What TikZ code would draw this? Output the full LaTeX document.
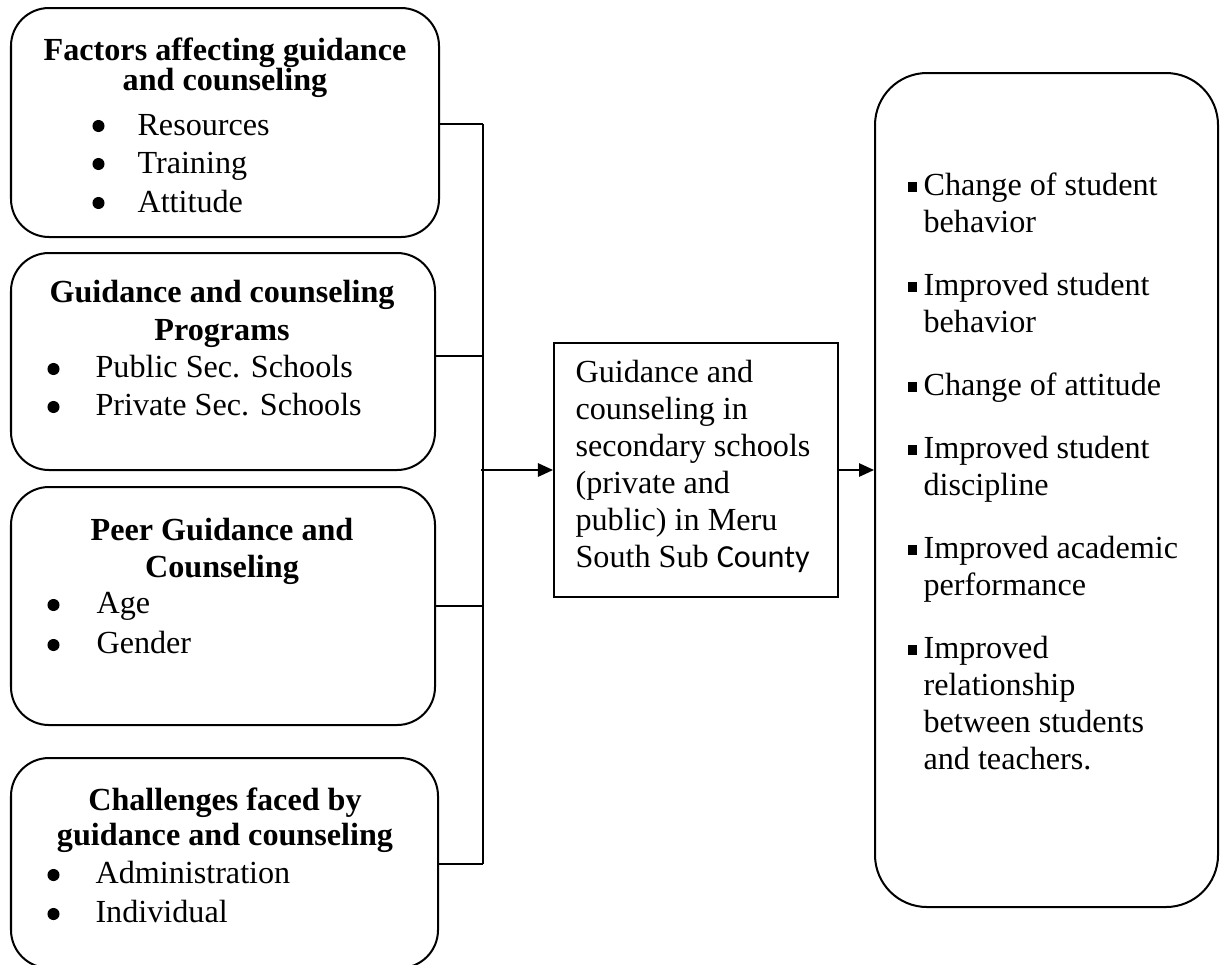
\documentclass[tikz,border=0pt]{standalone}
\usepackage{fontspec}
\setmainfont{Liberation Serif}
\newfontfamily\calibrifont{Carlito}
\usetikzlibrary{arrows.meta}

\newlength\pxu
\setlength\pxu{0.3731pt}

\tikzset{
  group/.style={draw,line width=0.75pt,rounded corners=38\pxu,inner sep=0pt},
  outbox/.style={draw,line width=0.75pt,rounded corners=52\pxu,inner sep=0pt},
  mainbox/.style={draw,line width=0.75pt,inner sep=0pt},
  title/.style={font=\fontsize{12}{13.8}\selectfont\bfseries,anchor=base,inner sep=0pt},
  txt/.style={font=\fontsize{12}{13.8}\selectfont,anchor=base west,inner sep=0pt},
  dot/.style={circle,fill,inner sep=0pt,minimum size=4.5pt},
  link/.style={line width=0.6pt},
  flow/.style={line width=0.6pt,-{Triangle[length=5.6pt,width=5pt]}}
}

\newcommand{\sqbullet}{\rule[1.2pt]{3.7pt}{3.7pt}}

\begin{document}
\begin{tikzpicture}[x=\pxu,y=-\pxu]
   \useasboundingbox (0,0) rectangle (1221,964);
   % left boxes
   \node (factors) at (225,122.5) [group,minimum width=428\pxu,minimum height=229\pxu] {};
   \node (programs) at (223,361.5) [group,minimum width=424\pxu,minimum height=217\pxu] {};
   \node (peer) at (223,606) [group,minimum width=424\pxu,minimum height=238\pxu] {};
   \node (challenges) at (224.5,863) [group,minimum width=427\pxu,minimum height=210\pxu] {};
   % middle and right boxes
   \node (centre) at (696,470) [mainbox,minimum width=284\pxu,minimum height=254\pxu] {};
   \node (outcomes) at (1046.5,490) [outbox,minimum width=343\pxu,minimum height=834\pxu] {};

   % factors
   \node (f1) at (225,60) [title] {Factors affecting guidance};
   \node (f2) at (225,90) [title] {and counseling};
   \node (fd1) at (98.5,126) [dot] {};
   \node (ft1) at (137,135) [txt] {Resources};
   \node (fd2) at (98.5,164) [dot] {};
   \node (ft2) at (137,173) [txt] {Training};
   \node (fd3) at (98.5,203) [dot] {};
   \node (ft3) at (137,212) [txt] {Attitude};

   % programs
   \node (p1) at (222,302) [title] {Guidance and counseling};
   \node (p2) at (222,340) [title] {Programs};
   \node (pd1) at (53.5,369) [dot] {};
   \node (pt1) at (95,377) [txt] {Public Sec. Schools};
   \node (pd2) at (53.5,407) [dot] {};
   \node (pt2) at (95,415) [txt] {Private Sec. Schools};

   % peer
   \node (g1) at (222,540) [title] {Peer Guidance and};
   \node (g2) at (222,577) [title] {Counseling};
   \node (gd1) at (53.5,605) [dot] {};
   \node (gt1) at (96,613) [txt] {Age};
   \node (gd2) at (53.5,645) [dot] {};
   \node (gt2) at (96,653) [txt] {Gender};

   % challenges
   \node (c1) at (225,810) [title] {Challenges faced by};
   \node (c2) at (225,845) [title] {guidance and counseling};
   \node (cd1) at (53.5,875) [dot] {};
   \node (ct1) at (95,883) [txt] {Administration};
   \node (cd2) at (53.5,914) [dot] {};
   \node (ct2) at (95,922) [txt] {Individual};

   % centre text
   \node (m1) at (575,382) [txt] {Guidance and};
   \node (m2) at (575,419) [txt] {counseling in};
   \node (m3) at (575,456) [txt] {secondary schools};
   \node (m4) at (575,493) [txt] {(private and};
   \node (m5) at (575,530) [txt] {public) in Meru};
   \node (m6) at (575,567) [txt] {South Sub {\calibrifont County}};

   % outcomes
   \node (od1) at (907,195) [txt] {\sqbullet};
   \node (o1) at (923,195) [txt] {Change of student};
   \node (o2) at (923,232) [txt] {behavior};
   \node (od2) at (907,295) [txt] {\sqbullet};
   \node (o3) at (923,295) [txt] {Improved student};
   \node (o4) at (923,332) [txt] {behavior};
   \node (od3) at (907,395) [txt] {\sqbullet};
   \node (o5) at (923,395) [txt] {Change of attitude};
   \node (od4) at (907,458) [txt] {\sqbullet};
   \node (o6) at (923,458) [txt] {Improved student};
   \node (o7) at (923,495) [txt] {discipline};
   \node (od5) at (907,558) [txt] {\sqbullet};
   \node (o8) at (923,558) [txt] {Improved academic};
   \node (o9) at (923,595) [txt] {performance};
   \node (od6) at (907,658) [txt] {\sqbullet};
   \node (o10) at (923,658) [txt] {Improved};
   \node (o11) at (923,695) [txt] {relationship};
   \node (o12) at (923,732) [txt] {between students};
   \node (o13) at (923,769) [txt] {and teachers.};

   % connectors
   \coordinate (j1) at (483,124);
   \coordinate (j2) at (483,356);
   \coordinate (j3) at (483,606);
   \coordinate (j4) at (483,864);
   \coordinate (jm) at (481,470);
   \draw[link] (j1 -| factors.east) -- (j1);
   \draw[link] (j2 -| programs.east) -- (j2);
   \draw[link] (j3 -| peer.east) -- (j3);
   \draw[link] (j4 -| challenges.east) -- (j4);
   \draw[link] (j1) -- (j4);
   \draw[flow] (jm) -- (centre.west);
   \draw[flow] (centre.east) -- (centre.east -| outcomes.west);
\end{tikzpicture}
\end{document}
